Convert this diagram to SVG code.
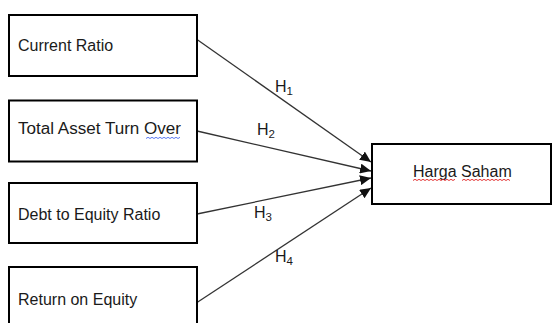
<svg xmlns="http://www.w3.org/2000/svg" width="552" height="323" viewBox="0 0 552 323">
  <style>
    .box { fill: #ffffff; stroke: #000000; stroke-width: 2; }
    .lbl { font-family: "Liberation Sans", Arial, sans-serif; font-size: 16px; fill: #1a1a1a; }
    .h { font-family: "Liberation Sans", Arial, sans-serif; font-size: 16px; fill: #1a1a1a; }
    .sub { font-size: 11.5px; }
    .conn { stroke: #333333; stroke-width: 1.3; fill: none; }
    .wavy-b { stroke: #4a6cf0; stroke-width: 0.9; fill: none; }
    .wavy-r { stroke: #e02020; stroke-width: 0.9; fill: none; }
  </style>
  <defs>
    <marker id="arrow" markerUnits="userSpaceOnUse" markerWidth="12" markerHeight="10" refX="11" refY="5" orient="auto">
      <path d="M0,0 L11,5 L0,10 Z" fill="#111111"/>
    </marker>
  </defs>
  <rect width="552" height="323" fill="#ffffff"/>

  <g id="connectors">
    <line class="conn" x1="197" y1="39.5" x2="371" y2="162" marker-end="url(#arrow)"/>
    <line class="conn" x1="197" y1="131" x2="371" y2="171" marker-end="url(#arrow)"/>
    <line class="conn" x1="197" y1="214" x2="371" y2="178" marker-end="url(#arrow)"/>
    <line class="conn" x1="197" y1="302.5" x2="371" y2="188" marker-end="url(#arrow)"/>
    <text class="h" x="275" y="92">H<tspan class="sub" dy="3">1</tspan></text>
    <text class="h" x="257" y="135">H<tspan class="sub" dy="3">2</tspan></text>
    <text class="h" x="254" y="218">H<tspan class="sub" dy="3">3</tspan></text>
    <text class="h" x="275" y="262">H<tspan class="sub" dy="3">4</tspan></text>
  </g>

  <g id="current-ratio">
    <rect class="box" x="9" y="15" width="188" height="61"/>
    <text class="lbl" x="18" y="51">Current Ratio</text>
  </g>
  <g id="total-asset-turn-over">
    <rect class="box" x="9" y="100.5" width="188" height="61"/>
    <text class="lbl" x="18" y="134" textLength="163" lengthAdjust="spacingAndGlyphs">Total Asset Turn Over</text>
    <path class="wavy-b" d="M146,138.5 l2,-1.2 l2,1.2 l2,-1.2 l2,1.2 l2,-1.2 l2,1.2 l2,-1.2 l2,1.2 l2,-1.2 l2,1.2 l2,-1.2 l2,1.2 l2,-1.2 l2,1.2 l2,-1.2 l2,1.2 l2,-1.2"/>
  </g>
  <g id="debt-to-equity-ratio">
    <rect class="box" x="9" y="183" width="188" height="60"/>
    <text class="lbl" x="18" y="220">Debt to Equity Ratio</text>
  </g>
  <g id="return-on-equity">
    <rect class="box" x="9" y="267" width="188" height="70"/>
    <text class="lbl" x="18" y="305">Return on Equity</text>
  </g>
  <g id="harga-saham">
    <rect class="box" x="372" y="144" width="179" height="60"/>
    <text class="lbl" x="413" y="177">Harga Saham</text>
    <path class="wavy-r" d="M413,180.5 l2,-1.2 l2,1.2 l2,-1.2 l2,1.2 l2,-1.2 l2,1.2 l2,-1.2 l2,1.2 l2,-1.2 l2,1.2 l2,-1.2 l2,1.2 l2,-1.2 l2,1.2 l2,-1.2 l2,1.2 l2,-1.2 l2,1.2 l2,-1.2 l2,1.2 l2,-1.2"/>
    <path class="wavy-r" d="M462,180.5 l2,-1.2 l2,1.2 l2,-1.2 l2,1.2 l2,-1.2 l2,1.2 l2,-1.2 l2,1.2 l2,-1.2 l2,1.2 l2,-1.2 l2,1.2 l2,-1.2 l2,1.2 l2,-1.2 l2,1.2 l2,-1.2 l2,1.2 l2,-1.2 l2,1.2 l2,-1.2 l2,1.2 l2,-1.2 l2,1.2"/>
  </g>
</svg>
